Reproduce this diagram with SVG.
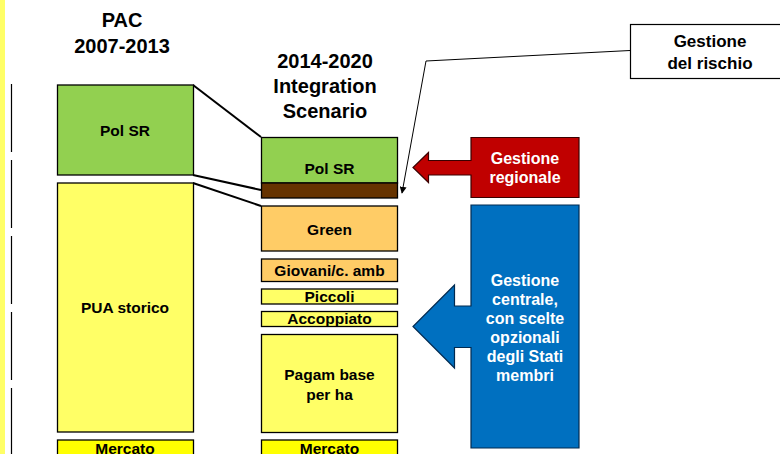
<svg xmlns="http://www.w3.org/2000/svg" width="780" height="454" viewBox="0 0 780 454">
<style>
  text { font-family: "Liberation Sans", Arial, sans-serif; font-weight: bold; text-anchor: middle; fill: #000; }
  .hdr { font-size: 20px; }
  .lbl { font-size: 15.5px; }
  .wl { font-size: 16px; fill: #fff; }
  .box { stroke: #000; stroke-width: 1.3; }
  .conn { stroke: #000; stroke-width: 2; fill: none; }
</style>
<defs>
  <marker id="ah" viewBox="0 0 10 10" refX="9" refY="5" markerWidth="7" markerHeight="7" orient="auto" markerUnits="userSpaceOnUse">
    <path d="M0,0 L10,5 L0,10 z" fill="#000"/>
  </marker>
</defs>
<rect width="780" height="454" fill="#fff"/>
<rect x="0" y="0" width="5" height="454" fill="#FFFF66"/>
<line x1="11.5" y1="84" x2="11.5" y2="454" stroke="#000" stroke-width="1.2" stroke-dasharray="68 8"/>

<g id="hdr-left">
  <text class="hdr" x="122" y="27">PAC</text>
  <text class="hdr" x="122" y="53">2007-2013</text>
</g>
<g id="hdr-mid">
  <text class="hdr" x="325" y="68">2014-2020</text>
  <text class="hdr" x="325" y="93">Integration</text>
  <text class="hdr" x="325" y="118">Scenario</text>
</g>

<g id="connectors">
  <line class="conn" x1="193" y1="85" x2="261" y2="137"/>
  <line class="conn" x1="193" y1="175" x2="261" y2="190"/>
  <line class="conn" x1="193" y1="183" x2="261" y2="206"/>
  <polyline points="630,50.5 426,61 402,193" fill="none" stroke="#000" stroke-width="1" marker-end="url(#ah)"/>
</g>

<g id="l-polsr">
  <rect class="box" x="57.5" y="85" width="136" height="90" fill="#92D050"/>
  <text class="lbl" x="125" y="136">Pol SR</text>
</g>
<g id="l-pua">
  <rect class="box" x="57.5" y="183" width="136" height="249" fill="#FFFF66"/>
  <text class="lbl" x="125" y="313">PUA storico</text>
</g>
<g id="l-mercato">
  <rect class="box" x="57.5" y="440" width="136" height="20" fill="#FFFF00"/>
  <text class="lbl" x="125" y="453.5">Mercato</text>
</g>

<g id="m-polsr">
  <rect class="box" x="261.5" y="137.5" width="136" height="45.5" fill="#92D050"/>
  <text class="lbl" x="329.5" y="173.5">Pol SR</text>
</g>
<g id="m-rischio">
  <rect class="box" x="261.5" y="183" width="136" height="15" fill="#663300"/>
</g>
<g id="m-green">
  <rect class="box" x="261.5" y="206" width="136" height="45" fill="#FFCC66"/>
  <text class="lbl" x="329.5" y="234.5">Green</text>
</g>
<g id="m-giovani">
  <rect class="box" x="261.5" y="259" width="136" height="22.5" fill="#FFCC66"/>
  <text class="lbl" x="329.5" y="275.5">Giovani/c. amb</text>
</g>
<g id="m-piccoli">
  <rect class="box" x="261.5" y="289" width="136" height="15" fill="#FFFF66"/>
  <text class="lbl" x="329.5" y="302.3">Piccoli</text>
</g>
<g id="m-accoppiato">
  <rect class="box" x="261.5" y="311.5" width="136" height="15" fill="#FFFF66"/>
  <text class="lbl" x="329.5" y="324.3">Accoppiato</text>
</g>
<g id="m-pagam">
  <rect class="box" x="261.5" y="334.5" width="136" height="98" fill="#FFFF66"/>
  <text class="lbl" x="329.5" y="380">Pagam base</text>
  <text class="lbl" x="329.5" y="399.5">per ha</text>
</g>
<g id="m-mercato">
  <rect class="box" x="261.5" y="440" width="136" height="20" fill="#FFFF00"/>
  <text class="lbl" x="329.5" y="453.5">Mercato</text>
</g>

<g id="r-regionale">
  <path d="M579,137.5 L471,137.5 L471,160.5 L428.5,160.5 L428.5,152.5 L413,167.5 L428.5,182.5 L428.5,175 L471,175 L471,197.5 L579,197.5 Z" fill="#C00000" stroke="#3a0000" stroke-width="1.2"/>
  <text class="wl" x="525" y="164">Gestione</text>
  <text class="wl" x="525" y="183">regionale</text>
</g>
<g id="r-centrale">
  <path d="M579,205 L471,205 L471,306 L454.5,306 L454.5,285 L413,326.5 L454.5,368 L454.5,347.5 L471,347.5 L471,448 L579,448 Z" fill="#0070C0" stroke="#002a50" stroke-width="1.2"/>
  <text class="wl" x="525" y="286">Gestione</text>
  <text class="wl" x="525" y="305">centrale,</text>
  <text class="wl" x="525" y="324">con scelte</text>
  <text class="wl" x="525" y="343">opzionali</text>
  <text class="wl" x="525" y="362">degli Stati</text>
  <text class="wl" x="525" y="380.5">membri</text>
</g>
<g id="r-rischio">
  <rect x="630.5" y="24.5" width="155" height="54" fill="#fff" stroke="#000" stroke-width="1.2"/>
  <text x="710" y="47.3" style="font-size:17px">Gestione</text>
  <text x="710" y="68.5" style="font-size:17px">del rischio</text>
</g>
</svg>
